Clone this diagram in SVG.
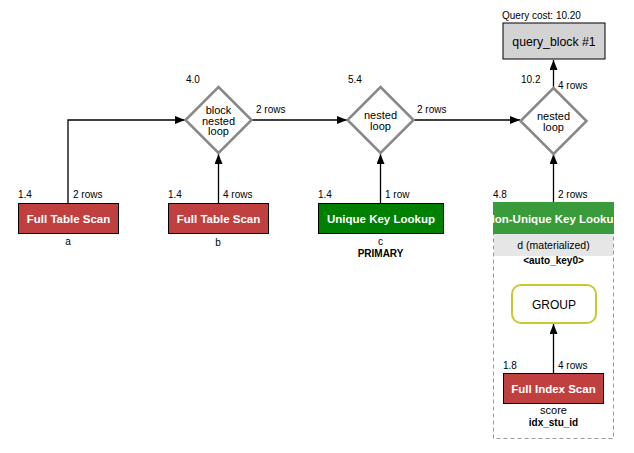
<svg xmlns="http://www.w3.org/2000/svg" width="634" height="453" viewBox="0 0 634 453">
  <style>
    text { font-family: "Liberation Sans", Arial, sans-serif; fill: #000; }
    .lbl { font-size: 10px; }
    .box-text { font-size: 11.5px; font-weight: bold; fill: #fff; }
    .dia { fill: #fff; stroke: #888; stroke-width: 2.5; }
    .dia-text { font-size: 11px; text-anchor: middle; }
    .scan { fill: #c04040; stroke: #000; stroke-width: 1; }
    .conn { fill: none; stroke: #000; stroke-width: 1.3; }
    .mid { text-anchor: middle; }
    .bold { font-weight: bold; }
  </style>
  <defs>
    <marker id="arrow" markerWidth="10" markerHeight="8" refX="10" refY="4" orient="auto" markerUnits="userSpaceOnUse">
      <path d="M0,0 L10,4 L0,8 z" fill="#000"/>
    </marker>
    <clipPath id="clip-nukl">
      <rect x="493" y="202" width="120" height="32"/>
    </clipPath>
  </defs>

  <rect width="634" height="453" fill="#fff"/>

  <!-- connectors -->
  <g id="connectors">
    <path class="conn" d="M68,203 V120 H185" marker-end="url(#arrow)"/>
    <path class="conn" d="M218.5,203 V154" marker-end="url(#arrow)"/>
    <path class="conn" d="M251.5,120 H347" marker-end="url(#arrow)"/>
    <path class="conn" d="M380.5,203 V154" marker-end="url(#arrow)"/>
    <path class="conn" d="M413.5,120 H520" marker-end="url(#arrow)"/>
    <path class="conn" d="M553.5,202 V154" marker-end="url(#arrow)"/>
    <path class="conn" d="M553.5,87 V60" marker-end="url(#arrow)"/>
    <path class="conn" d="M553.5,373 V324" marker-end="url(#arrow)"/>
  </g>

  <!-- query block -->
  <g id="query_block">
    <text class="lbl" x="502" y="19">Query cost: 10.20</text>
    <rect x="503" y="23" width="102" height="36" fill="#d3d3d3" stroke="#000" stroke-width="1"/>
    <text x="554" y="46" class="mid" style="font-size:12.3px">query_block #1</text>
  </g>

  <!-- join nodes -->
  <g id="bnl1">
    <text class="lbl" x="186" y="83">4.0</text>
    <polygon class="dia" points="218.5,87 251.5,120 218.5,153 185.5,120"/>
    <text class="dia-text" x="218.5" y="114">block</text>
    <text class="dia-text" x="218.5" y="124.5">nested</text>
    <text class="dia-text" x="218.5" y="135">loop</text>
    <text class="lbl" x="256" y="113">2 rows</text>
  </g>

  <g id="nl2">
    <text class="lbl" x="348" y="83">5.4</text>
    <polygon class="dia" points="380.5,87 413.5,120 380.5,153 347.5,120"/>
    <text class="dia-text" x="380.5" y="119">nested</text>
    <text class="dia-text" x="380.5" y="129.5">loop</text>
    <text class="lbl" x="417" y="113">2 rows</text>
  </g>

  <g id="nl3">
    <text class="lbl" x="521" y="83">10.2</text>
    <text class="lbl" x="558" y="89">4 rows</text>
    <polygon class="dia" points="553.5,88 586.5,121 553.5,154 520.5,121"/>
    <text class="dia-text" x="553.5" y="120">nested</text>
    <text class="dia-text" x="553.5" y="130.5">loop</text>
  </g>

  <!-- table a -->
  <g id="table_a">
    <text class="lbl" x="18" y="198">1.4</text>
    <text class="lbl" x="73" y="198">2 rows</text>
    <rect class="scan" x="18.5" y="203.5" width="100" height="30"/>
    <text class="box-text mid" x="68.5" y="222.5">Full Table Scan</text>
    <text class="lbl mid" x="68" y="245">a</text>
  </g>

  <!-- table b -->
  <g id="table_b">
    <text class="lbl" x="168" y="198">1.4</text>
    <text class="lbl" x="223" y="198">4 rows</text>
    <rect class="scan" x="168.5" y="203.5" width="100" height="30"/>
    <text class="box-text mid" x="218.5" y="222.5">Full Table Scan</text>
    <text class="lbl mid" x="218" y="246">b</text>
  </g>

  <!-- table c -->
  <g id="table_c">
    <text class="lbl" x="318" y="198">1.4</text>
    <text class="lbl" x="385" y="198">1 row</text>
    <rect x="318.5" y="203.5" width="125" height="30" fill="#008000" stroke="#000" stroke-width="1"/>
    <text class="box-text mid" x="381" y="222.5">Unique Key Lookup</text>
    <text class="lbl mid" x="380.5" y="245">c</text>
    <text class="lbl mid bold" x="380.5" y="257">PRIMARY</text>
  </g>

  <!-- derived table d -->
  <g id="table_d">
    <text class="lbl" x="493" y="198">4.8</text>
    <text class="lbl" x="558" y="198">2 rows</text>
    <rect x="493.5" y="202.5" width="120" height="236" fill="none" stroke="#999" stroke-width="1" stroke-dasharray="4,3"/>
    <rect x="493" y="202" width="121" height="32" fill="#3a9b3a"/>
    <text class="box-text mid" x="553.5" y="222.5" clip-path="url(#clip-nukl)">Non-Unique Key Lookup</text>
    <rect x="494" y="234" width="119" height="22" fill="#e6e6e6"/>
    <text class="mid" x="553.5" y="249" style="font-size:10.5px">d (materialized)</text>
    <text class="lbl mid bold" x="553.5" y="264">&lt;auto_key0&gt;</text>
  </g>

  <g id="group_op">
    <rect x="512" y="285" width="84" height="38" rx="9" ry="9" fill="#fff" stroke="#c8c832" stroke-width="2"/>
    <text class="mid" x="554" y="308.5" style="font-size:12px">GROUP</text>
  </g>

  <g id="score_scan">
    <text class="lbl" x="503" y="369">1.8</text>
    <text class="lbl" x="558" y="369">4 rows</text>
    <rect class="scan" x="503.5" y="373.5" width="100" height="30"/>
    <text class="box-text mid" x="553.5" y="392.5">Full Index Scan</text>
    <text class="mid" x="553.5" y="414" style="font-size:11px">score</text>
    <text class="lbl mid bold" x="553.5" y="426">idx_stu_id</text>
  </g>
</svg>
